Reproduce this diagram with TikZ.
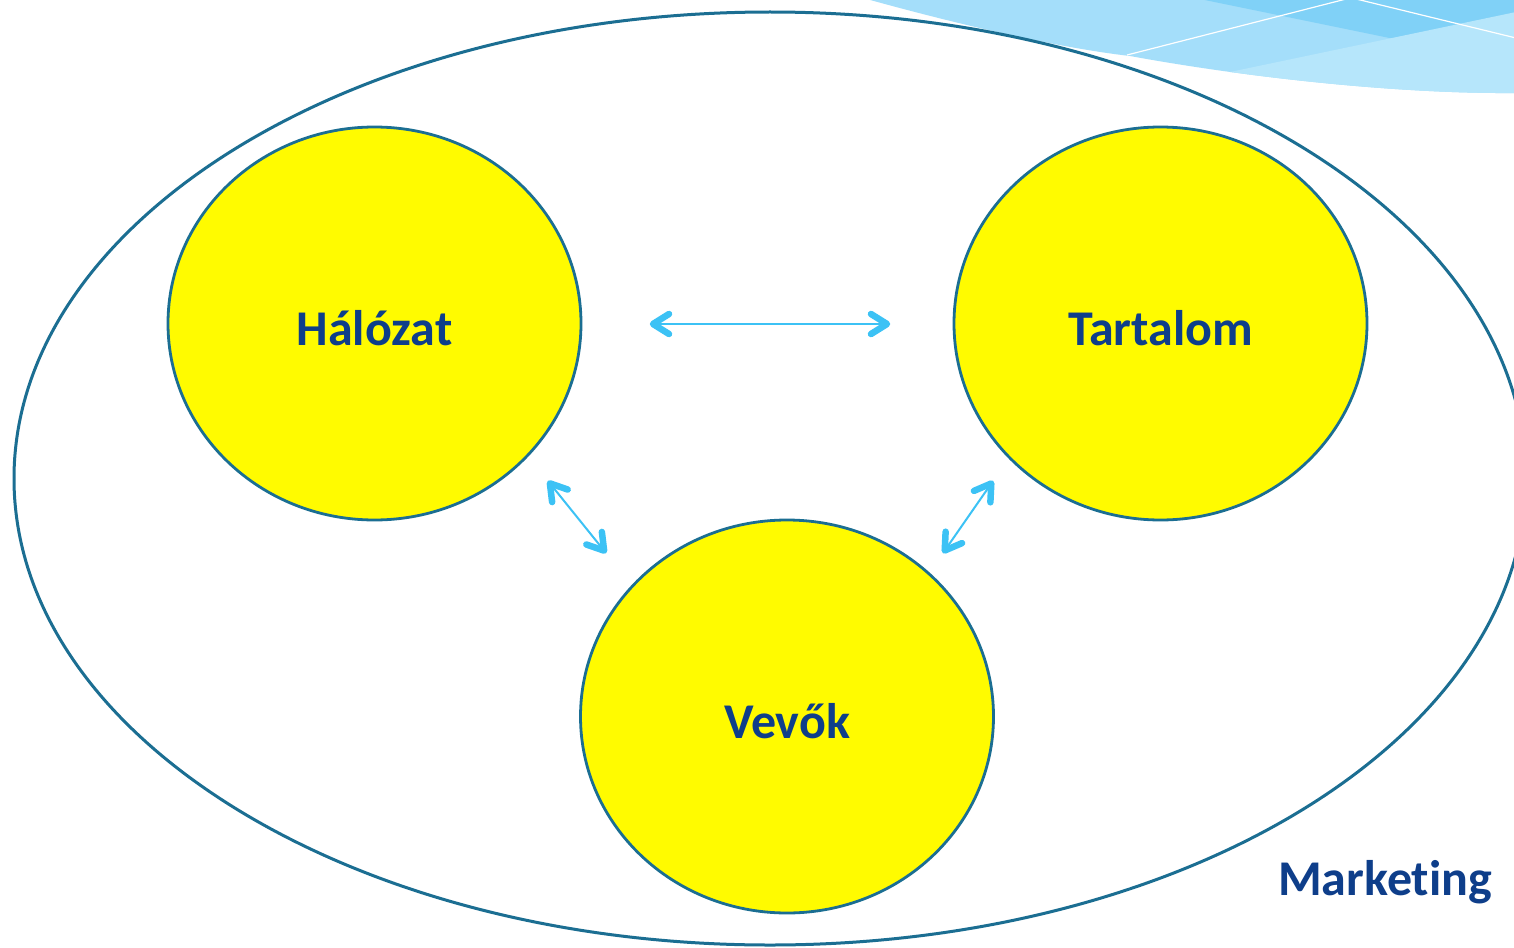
\documentclass[tikz,border=0pt]{standalone}
\usepackage{fontspec}
\setmainfont[RawFeature=-liga]{Carlito}
\usetikzlibrary{shapes.geometric,arrows.meta}
\definecolor{rim}{HTML}{1B6E92}
\definecolor{txt}{HTML}{0E3E8A}
\definecolor{arr}{HTML}{3CC2F5}
\definecolor{yel}{HTML}{FFFB00}
\definecolor{swA}{HTML}{A4DEFA}
\definecolor{swB}{HTML}{80D1F7}
\definecolor{swC}{HTML}{B6E6FB}
\pgfdeclarearrow{
  name=Chev,
  parameters={},
  setup code={\pgfarrowssettipend{3pt}\pgfarrowssetlineend{-1pt}\pgfarrowssetbackend{-19pt}},
  drawing code={\pgfsetlinewidth{6.5pt}\pgfsetroundcap\pgfsetroundjoin
    \pgfpathmoveto{\pgfpoint{-16pt}{10pt}}\pgfpathlineto{\pgfpointorigin}\pgfpathlineto{\pgfpoint{-16pt}{-10pt}}\pgfusepathqstroke},
  defaults={}
}
\tikzset{
  blob/.style={ellipse, draw=rim, line width=2.8pt, fill=yel, minimum width=413pt, minimum height=393pt, inner sep=0pt,
    font=\fontsize{50}{56}\selectfont\bfseries, text=txt, text height=43pt, text depth=0pt},
  link/.style={draw=arr, line width=2pt, {Chev}-{Chev}},
}
\begin{document}
\begin{tikzpicture}[x=1pt,y=-1pt]
\useasboundingbox (0,0) rectangle (1514,947);
\clip (0,0) rectangle (1514,947);
\fill[white] (0,0) rectangle (1514,947);
% swoosh decoration
\fill[swA] (863,-2) .. controls (960,25) and (1060,48) .. (1130,56) .. controls (1250,78) and (1400,94) .. (1516,93) -- (1516,-2) -- cycle;
\begin{scope}
\clip (863,-2) .. controls (960,25) and (1060,48) .. (1130,56) .. controls (1250,78) and (1400,94) .. (1516,93) -- (1516,-2) -- cycle;
\fill[swB] (1195,-2) -- (1516,-2) -- (1516,64) -- cycle;
\fill[swC] (1230,72) -- (1516,12) -- (1516,100) -- (1230,100) -- cycle;
\draw[white, line width=1.2pt] (1127,55) -- (1350,-2);
\draw[white, line width=1.2pt] (1352,-2) -- (1516,38);
\end{scope}
% outer ellipse
\node[ellipse, draw=rim, line width=3pt, minimum width=1512pt, minimum height=933pt, inner sep=0pt] (outer) at (770,478.5) {};
% circles
\node[blob] (hal) at (374.5,323.5) {Hálózat};
\node[blob] (tar) at (1160.5,323.5) {Tartalom};
\node[blob] (vev) at (787,716.5) {Vevők};
% connectors
\coordinate (h1) at (650,324);
\coordinate (t1) at (890,324);
\coordinate (h2) at (548,481);
\coordinate (v1) at (606,553);
\coordinate (t2) at (993,481);
\coordinate (v2) at (943,553);
\draw[link] (h1) -- (t1);
\draw[link] (h2) -- (v1);
\draw[link] (t2) -- (v2);
\node[anchor=base west, inner sep=0pt, font=\fontsize{50}{56}\selectfont\bfseries, text=txt] (mkt) at (1278,895) {Marketing};
\end{tikzpicture}
\end{document}
